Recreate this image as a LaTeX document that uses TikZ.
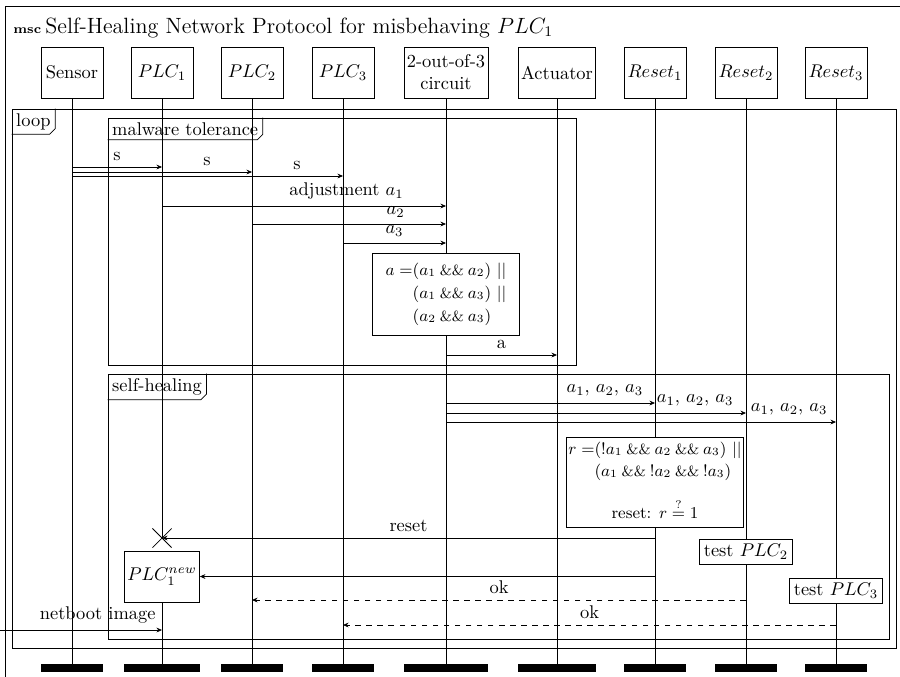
\documentclass[tikz,border=0pt]{standalone}
\usetikzlibrary{arrows.meta,fit,shapes.misc}

\newcommand{\aand}{\mathbin{\mbox{\footnotesize\&\&}}}
\newcommand{\frametag}[2]{%
  \node[anchor=north west, inner sep=2.3pt] (#1tag) at (#1.north west) {#2};
  \draw (#1tag.north east) -- ([yshift=3pt]#1tag.south east)
    -- ([xshift=-3pt]#1tag.south east) -- (#1tag.south west);}

\tikzset{
  instance/.style={draw, fill=white, minimum width=33.7pt, minimum height=27.7pt, inner xsep=1.5pt, align=center},
  bar/.style={fill=black, inner sep=0pt},
  frame/.style={draw, inner sep=0pt},
  note/.style={draw, fill=white, inner sep=0pt, font=\small},
  action/.style={draw, fill=white, inner sep=2.5pt},
  kill/.style={draw, cross out, minimum size=10pt, inner sep=0pt},
  msg/.style={-{Stealth[length=3pt,width=2.6pt]}},
  reply/.style={msg, dashed},
}

\begin{document}
\begin{tikzpicture}[x=0.543pt, y=-0.543pt]
\useasboundingbox (0,0) rectangle (900,676);
\draw (900,6) -- (5,6) -- (5,680);
\node[anchor=base west, inner sep=0pt] (msc) at (13,33) {\scriptsize\bfseries msc};
\node[anchor=base west, inner sep=0pt] (title) at (45,33) {\large Self-Healing Network Protocol for misbehaving $PLC_1$};

\node[instance] (sensor) at (72,72.5) {Sensor};
\node[instance] (plc1) at (162,72.5) {$PLC_1$};
\node[instance] (plc2) at (252,72.5) {$PLC_2$};
\node[instance] (plc3) at (343,72.5) {$PLC_3$};
\node[instance] (voter) at (446,72.5) {2-out-of-3\\circuit};
\node[instance] (actuator) at (557,72.5) {Actuator};
\node[instance] (reset1) at (655,72.5) {$Reset_1$};
\node[instance] (reset2) at (746,72.5) {$Reset_2$};
\node[instance] (reset3) at (836,72.5) {$Reset_3$};

\node[frame, fit={(12,109) (896,648)}] (loop) {};
\node[frame, fit={(108,118) (576,365)}] (malware) {};
\node[frame, fit={(108,374) (889,639)}] (healing) {};
\frametag{loop}{loop}
\frametag{malware}{malware tolerance}
\frametag{healing}{self-healing}

\node[instance] (plc1new) at (162,576.5) {$PLC_1^{new}$};
\foreach \n in {sensor,plc2,plc3,voter,actuator,reset1,reset2,reset3} {
  \node[bar, fit={(\n.west |- 0,664) (\n.east |- 0,672)}] (\n-end) {};
  \draw (\n.south) -- (\n-end.north);
}
\node[bar, fit={(plc1new.west |- 0,664) (plc1new.east |- 0,672)}] (plc1-end) {};
\node[kill] (cross) at (plc1 |- 0,538) {};
\draw (plc1.south) -- (cross.center);
\draw (plc1new.south) -- (plc1-end.north);

\node[note, minimum width=80pt, minimum height=44.5pt] (vote) at (voter |- 0,294) {%
  \begin{tabular}{@{}r@{}l@{}}
  $a =$ & $(a_1 \aand a_2)\ ||$ \\[1.5pt]
        & $(a_1 \aand a_3)\ ||$ \\[1.5pt]
        & $(a_2 \aand a_3)$
  \end{tabular}};
\node[note, minimum width=96pt, minimum height=49pt] (rule) at (reset1 |- 0,482) {%
  \begin{tabular}{@{}r@{}l@{}}
  $r =$ & $({!}a_1 \aand a_2 \aand a_3)\ ||$ \\[1pt]
        & $(a_1 \aand {!}a_2 \aand {!}a_3)$ \\[9pt]
  \multicolumn{2}{c}{reset: $r \stackrel{?}{=} 1$}
  \end{tabular}};
\node[action] (test2) at (reset2 |- 0,552) {test $PLC_2$};
\node[action] (test3) at (reset3 |- 0,591) {test $PLC_3$};

\draw[msg] (sensor |- 0,167) -- node[above] {s} (plc1 |- 0,167);
\draw[msg] (sensor |- 0,172) -- node[above, pos=0.75] {s} (plc2 |- 0,172);
\draw[msg] (sensor |- 0,176) -- node[above, pos=0.83] {s} (plc3 |- 0,176);
\draw[msg] (plc1 |- 0,206) -- node[above, pos=0.65] {adjustment $a_1$} (voter |- 0,206);
\draw[msg] (plc2 |- 0,224) -- node[above, pos=0.74] {$a_2$} (voter |- 0,224);
\draw[msg] (plc3 |- 0,243) -- node[above] {$a_3$} (voter |- 0,243);
\draw[msg] (voter |- 0,355) -- node[above] {a} (actuator |- 0,355);

\draw[msg] (voter |- 0,403) -- node[above, pos=0.76] {$a_1$, $a_2$, $a_3$} (reset1 |- 0,403);
\draw[msg] (voter |- 0,413) -- node[above, pos=0.83] {$a_1$, $a_2$, $a_3$} (reset2 |- 0,413);
\draw[msg] (voter |- 0,422) -- node[above, pos=0.88] {$a_1$, $a_2$, $a_3$} (reset3 |- 0,422);
\draw[msg] (reset1 |- 0,538) -- node[above] {reset} (cross.center);
\draw[msg] (reset1 |- plc1new.east) -- (plc1new.east);
\draw[reply] (reset2 |- 0,600) -- node[above] {ok} (plc2 |- 0,600);
\draw[reply] (reset3 |- 0,625) -- node[above] {ok} (plc3 |- 0,625);
\coordinate (boot) at (0,630);
\draw[msg] (boot) -- node[above left, pos=1] {netboot image} (plc1 |- boot);
\end{tikzpicture}
\end{document}
